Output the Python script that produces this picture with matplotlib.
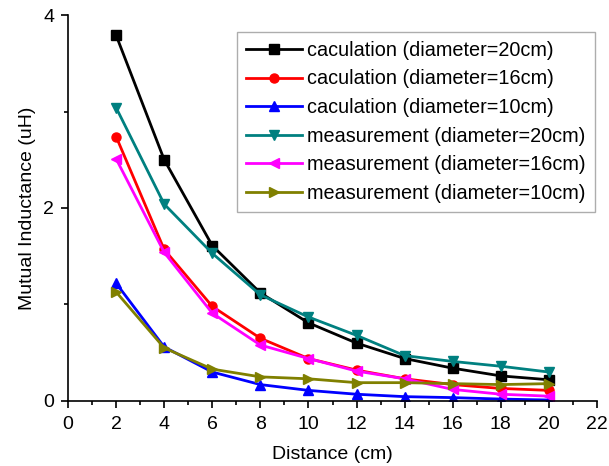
import matplotlib
matplotlib.use("Agg")
import matplotlib.pyplot as plt
from matplotlib.ticker import MultipleLocator

distance = [2, 4, 6, 8, 10, 12, 14, 16, 18, 20]
calc_20 = [3.79, 2.50, 1.61, 1.12, 0.81, 0.60, 0.44, 0.34, 0.26, 0.22]
calc_16 = [2.74, 1.57, 0.98, 0.65, 0.44, 0.32, 0.23, 0.17, 0.13, 0.11]
calc_10 = [1.22, 0.56, 0.30, 0.17, 0.11, 0.07, 0.045, 0.035, 0.02, 0.01]
meas_20 = [3.04, 2.04, 1.53, 1.10, 0.87, 0.68, 0.47, 0.41, 0.36, 0.30]
meas_16 = [2.51, 1.54, 0.91, 0.58, 0.44, 0.31, 0.23, 0.12, 0.07, 0.05]
meas_10 = [1.13, 0.55, 0.33, 0.25, 0.23, 0.19, 0.19, 0.18, 0.17, 0.18]

labels = ["caculation (diameter=20cm)", "caculation (diameter=16cm)",
          "caculation (diameter=10cm)", "measurement (diameter=20cm)",
          "measurement (diameter=16cm)", "measurement (diameter=10cm)"]
series = [calc_20, calc_16, calc_10, meas_20, meas_16, meas_10]
colors = ["#000000", "#ff0000", "#0000ff", "#008080", "#ff00ff", "#808000"]
markers = ["s", "o", "^", "v", "<", ">"]

plt.rcParams['font.family'] = ['Liberation Sans', 'DejaVu Sans']

fig = plt.figure(figsize=(6.09, 4.66), dpi=100)
ax = fig.add_axes([0.1117, 0.1395, 0.8686, 0.8283])

for ys, lab, c, m in zip(series, labels, colors, markers):
    ax.plot(distance, ys, color=c, marker=m, markersize=6.5, linewidth=2, label=lab)

ax.set_xlim(0, 22)
ax.set_ylim(0, 4)
ax.xaxis.set_major_locator(MultipleLocator(2))
ax.xaxis.set_minor_locator(MultipleLocator(1))
ax.yaxis.set_major_locator(MultipleLocator(2))
ax.yaxis.set_minor_locator(MultipleLocator(1))
for s in ['top', 'right']:
    ax.spines[s].set_visible(False)
for s in ['left', 'bottom']:
    ax.spines[s].set_linewidth(1.2)
ax.tick_params(which='major', direction='out', length=5, width=1.2, labelsize=14)
ax.tick_params(axis='x', which='major', pad=6)
ax.tick_params(axis='y', which='major', pad=5)
ax.tick_params(which='minor', direction='out', length=3, width=1.2)
ax.set_xlabel("Distance (cm)", fontsize=14, labelpad=9)
ax.set_ylabel("Mutual Inductance (uH)", fontsize=14, labelpad=5)

leg = ax.legend(loc='upper right', bbox_to_anchor=(0.996, 0.956), fontsize=14.3,
                frameon=True, fancybox=False, edgecolor='#999999',
                handlelength=2.85, labelspacing=0.48, borderpad=0.45,
                handletextpad=0.25, borderaxespad=0.0)
leg.get_frame().set_linewidth(1.0)

fig.savefig("out.png", dpi=100)
